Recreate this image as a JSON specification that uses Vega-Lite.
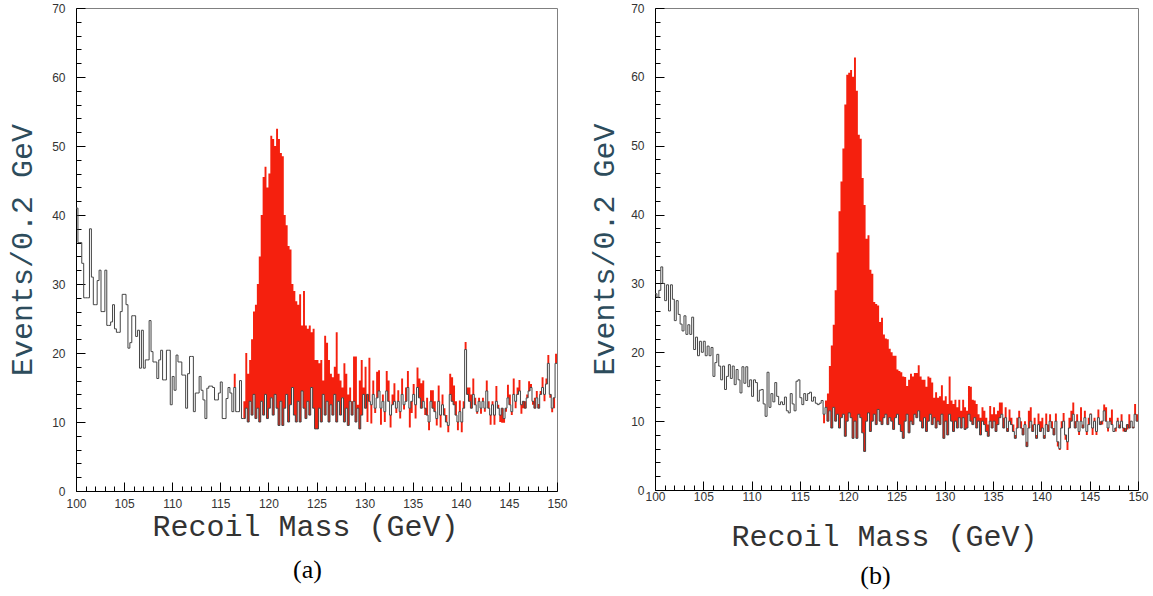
{
"$schema": "https://vega.github.io/schema/vega-lite/v6.json",
"padding": {"left": 7, "top": 1, "right": 0, "bottom": 0},
"spacing": 21,
"config": {
 "view": {"stroke": "#808080", "strokeWidth": 1},
 "axis": {"grid": false, "domainColor": "#000", "tickColor": "#000", "labelColor": "#333", "labelFont": "Liberation Sans Narrow, Liberation Sans, Arial", "labelFontSize": 12, "labelOverlap": false, "labelFlush": false, "titleFont": "Liberation Mono", "titleFontSize": 30, "titleFontWeight": "normal"},
 "title": {"font": "Liberation Serif", "fontSize": 26, "fontWeight": "normal", "color": "#000"}
},
"datasets": {
"a": [
{"m":100,"b":41,"t":41},{"m":100.2,"b":36,"t":36},{"m":100.4,"b":36,"t":36},{"m":100.6,"b":33,"t":33},{"m":100.8,"b":28,"t":28},
{"m":101,"b":28,"t":28},{"m":101.2,"b":28,"t":28},{"m":101.4,"b":38,"t":38},{"m":101.6,"b":31,"t":31},{"m":101.8,"b":27,"t":27},
{"m":102,"b":27,"t":27},{"m":102.2,"b":30.5,"t":30.5},{"m":102.4,"b":32,"t":32},{"m":102.6,"b":26,"t":26},{"m":102.8,"b":26,"t":26},
{"m":103,"b":32,"t":32},{"m":103.2,"b":24,"t":24},{"m":103.4,"b":24,"t":24},{"m":103.6,"b":24.5,"t":24.5},{"m":103.8,"b":27,"t":27},
{"m":104,"b":23.5,"t":23.5},{"m":104.2,"b":23,"t":23},{"m":104.4,"b":23,"t":23},{"m":104.6,"b":26,"t":26},{"m":104.8,"b":28.5,"t":28.5},
{"m":105,"b":28.5,"t":28.5},{"m":105.2,"b":27,"t":27},{"m":105.4,"b":20.7,"t":20.7},{"m":105.6,"b":21.5,"t":21.5},{"m":105.8,"b":25.4,"t":25.4},
{"m":106,"b":25.4,"t":25.4},{"m":106.2,"b":22.4,"t":22.4},{"m":106.4,"b":23.3,"t":23.3},{"m":106.6,"b":17.8,"t":17.8},{"m":106.8,"b":23.3,"t":23.3},
{"m":107,"b":17.8,"t":17.8},{"m":107.2,"b":19,"t":19},{"m":107.4,"b":19,"t":19},{"m":107.6,"b":24.7,"t":24.7},{"m":107.8,"b":20.2,"t":20.2},
{"m":108,"b":18.7,"t":18.7},{"m":108.2,"b":18.7,"t":18.7},{"m":108.4,"b":16.3,"t":16.3},{"m":108.6,"b":19,"t":19},{"m":108.8,"b":20.4,"t":20.4},
{"m":109,"b":16.1,"t":16.1},{"m":109.2,"b":16.1,"t":16.1},{"m":109.4,"b":20.4,"t":20.4},{"m":109.6,"b":20.4,"t":20.4},{"m":109.8,"b":12.5,"t":12.5},
{"m":110,"b":16.6,"t":16.6},{"m":110.2,"b":14.6,"t":14.6},{"m":110.4,"b":19.7,"t":19.7},{"m":110.6,"b":18.7,"t":18.7},{"m":110.8,"b":18.7,"t":18.7},
{"m":111,"b":16.8,"t":16.8},{"m":111.2,"b":16.8,"t":16.8},{"m":111.4,"b":12,"t":12},{"m":111.6,"b":17,"t":17},{"m":111.8,"b":19.5,"t":19.5},
{"m":112,"b":19.5,"t":19.5},{"m":112.2,"b":11.5,"t":11.5},{"m":112.4,"b":14.2,"t":14.2},{"m":112.6,"b":14.2,"t":14.2},{"m":112.8,"b":16.6,"t":16.6},
{"m":113,"b":14.6,"t":14.6},{"m":113.2,"b":13.2,"t":13.2},{"m":113.4,"b":10.5,"t":10.5},{"m":113.6,"b":14.9,"t":14.9},{"m":113.8,"b":15.2,"t":15.2},
{"m":114,"b":15.2,"t":15.2},{"m":114.2,"b":15,"t":15},{"m":114.4,"b":13.2,"t":13.2},{"m":114.6,"b":13.2,"t":13.2},{"m":114.8,"b":14.2,"t":14.2},
{"m":115,"b":15.8,"t":15.8},{"m":115.2,"b":10.5,"t":10.5},{"m":115.4,"b":10.5,"t":10.5},{"m":115.6,"b":13.4,"t":13.4},{"m":115.8,"b":15,"t":15},
{"m":116,"b":14.2,"t":14.2},{"m":116.2,"b":11.5,"t":11.5},{"m":116.4,"b":15,"t":17},{"m":116.6,"b":11.5,"t":11.5},{"m":116.8,"b":11.5,"t":11.5},
{"m":117,"b":16,"t":16},{"m":117.2,"b":10.5,"t":10.5},{"m":117.4,"b":10.5,"t":13},{"m":117.6,"b":12,"t":20},{"m":117.8,"b":10,"t":17},
{"m":118,"b":13,"t":19},{"m":118.2,"b":11,"t":22},{"m":118.4,"b":14,"t":26},{"m":118.6,"b":10.5,"t":27},{"m":118.8,"b":12,"t":30},
{"m":119,"b":10,"t":34},{"m":119.2,"b":13,"t":40},{"m":119.4,"b":11,"t":45.5},{"m":119.6,"b":14,"t":47},{"m":119.8,"b":10.5,"t":44},
{"m":120,"b":12,"t":46},{"m":120.2,"b":13.5,"t":51.5},{"m":120.4,"b":11,"t":51},{"m":120.6,"b":14,"t":50},{"m":120.8,"b":12,"t":52.5},
{"m":121,"b":9.5,"t":51},{"m":121.2,"b":13,"t":49},{"m":121.4,"b":9.5,"t":48.5},{"m":121.6,"b":12,"t":40},{"m":121.8,"b":14,"t":38.5},
{"m":122,"b":10,"t":35.5},{"m":122.2,"b":12.5,"t":35},{"m":122.4,"b":15,"t":30},{"m":122.6,"b":11,"t":29},{"m":122.8,"b":10,"t":27.5},
{"m":123,"b":13,"t":27},{"m":123.2,"b":10,"t":28.5},{"m":123.4,"b":14.5,"t":24},{"m":123.6,"b":12,"t":29},{"m":123.8,"b":10.5,"t":24},
{"m":124,"b":13,"t":23.5},{"m":124.2,"b":11,"t":24},{"m":124.4,"b":15,"t":23},{"m":124.6,"b":12,"t":23.5},{"m":124.8,"b":9,"t":19},
{"m":125,"b":9,"t":19},{"m":125.2,"b":12,"t":18.5},{"m":125.4,"b":10,"t":19},{"m":125.6,"b":14,"t":16},{"m":125.8,"b":11,"t":22.5},
{"m":126,"b":13,"t":21.5},{"m":126.2,"b":10,"t":19},{"m":126.4,"b":12.5,"t":17},{"m":126.6,"b":11,"t":16.5},{"m":126.8,"b":14,"t":18},
{"m":127,"b":10,"t":23},{"m":127.2,"b":13,"t":17},{"m":127.4,"b":11,"t":16},{"m":127.6,"b":13.5,"t":15},{"m":127.8,"b":10,"t":18.5},
{"m":128,"b":12,"t":17},{"m":128.2,"b":9.5,"t":14},{"m":128.4,"b":13,"t":15},{"m":128.6,"b":11,"t":13},{"m":128.8,"b":13,"t":19.5},
{"m":129,"b":10,"t":19.5},{"m":129.2,"b":12,"t":12.5},{"m":129.4,"b":9,"t":16},{"m":129.6,"b":11,"t":19},{"m":129.8,"b":14,"t":15},
{"m":130,"b":12,"t":18},{"m":130.2,"b":14,"t":10},{"m":130.4,"b":13,"t":19.3},{"m":130.6,"b":12.5,"t":9.8},{"m":130.8,"b":14,"t":16},
{"m":131,"b":12,"t":11.3},{"m":131.2,"b":13.5,"t":17.3},{"m":131.4,"b":14.5,"t":17.5},{"m":131.6,"b":12,"t":9.6},{"m":131.8,"b":13,"t":14},
{"m":132,"b":11.5,"t":10},{"m":132.2,"b":14.5,"t":17.4},{"m":132.4,"b":13,"t":16},{"m":132.6,"b":11,"t":9.2},{"m":132.8,"b":12.5,"t":14},
{"m":133,"b":13,"t":15.6},{"m":133.2,"b":12,"t":11.3},{"m":133.4,"b":13,"t":14.6},{"m":133.6,"b":11.5,"t":10.5},{"m":133.8,"b":14,"t":16.3},
{"m":134,"b":12.5,"t":11.8},{"m":134.2,"b":13,"t":15},{"m":134.4,"b":15,"t":17.4},{"m":134.6,"b":12,"t":9.2},{"m":134.8,"b":13,"t":11.3},
{"m":135,"b":14,"t":15.5},{"m":135.2,"b":12.5,"t":10.5},{"m":135.4,"b":15,"t":17.9},{"m":135.6,"b":13.5,"t":16.3},{"m":135.8,"b":12,"t":15.6},
{"m":136,"b":13,"t":16},{"m":136.2,"b":12,"t":11},{"m":136.4,"b":11,"t":13.5},{"m":136.6,"b":10,"t":8.8},{"m":136.8,"b":13,"t":14.6},
{"m":137,"b":12,"t":14.6},{"m":137.2,"b":11.5,"t":13},{"m":137.4,"b":10.5,"t":9.5},{"m":137.6,"b":13,"t":15.3},{"m":137.8,"b":11,"t":9.2},
{"m":138,"b":12.5,"t":14},{"m":138.2,"b":11,"t":12},{"m":138.4,"b":10,"t":11},{"m":138.6,"b":9.5,"t":8.5},{"m":138.8,"b":14,"t":17},
{"m":139,"b":13,"t":16.5},{"m":139.2,"b":12.5,"t":15.3},{"m":139.4,"b":11,"t":13},{"m":139.6,"b":10,"t":8.8},{"m":139.8,"b":11.5,"t":13.1},
{"m":140,"b":10,"t":8.5},{"m":140.2,"b":12,"t":13},{"m":140.4,"b":20.5,"t":21.6},{"m":140.6,"b":14,"t":15},{"m":140.8,"b":13,"t":15},
{"m":141,"b":12,"t":14},{"m":141.2,"b":14,"t":16.3},{"m":141.4,"b":12.5,"t":13.5},{"m":141.6,"b":11.5,"t":11.2},{"m":141.8,"b":13,"t":13.5},
{"m":142,"b":12,"t":11.2},{"m":142.2,"b":13,"t":13.5},{"m":142.4,"b":12,"t":11.5},{"m":142.6,"b":14.5,"t":16},{"m":142.8,"b":12,"t":13},
{"m":143,"b":11,"t":9.6},{"m":143.2,"b":12.5,"t":13},{"m":143.4,"b":11,"t":9.6},{"m":143.6,"b":13,"t":15.2},{"m":143.8,"b":12,"t":12.5},
{"m":144,"b":11,"t":10},{"m":144.2,"b":12,"t":9.9},{"m":144.4,"b":10.5,"t":9.9},{"m":144.6,"b":12,"t":11.5},{"m":144.8,"b":13.5,"t":15.4},
{"m":145,"b":12.5,"t":14},{"m":145.2,"b":11.5,"t":11},{"m":145.4,"b":14,"t":16.3},{"m":145.6,"b":13,"t":12},{"m":145.8,"b":14,"t":15},
{"m":146,"b":14.5,"t":16.1},{"m":146.2,"b":12.5,"t":11.2},{"m":146.4,"b":13,"t":12},{"m":146.6,"b":12,"t":13},{"m":146.8,"b":13.5,"t":14},
{"m":147,"b":14.5,"t":15.9},{"m":147.2,"b":15,"t":15.5},{"m":147.4,"b":13,"t":12.5},{"m":147.6,"b":12,"t":13.5},{"m":147.8,"b":13.5,"t":14.5},
{"m":148,"b":12,"t":12.6},{"m":148.2,"b":14,"t":14.5},{"m":148.4,"b":15,"t":16.5},{"m":148.6,"b":14,"t":13},{"m":148.8,"b":15.5,"t":16.3},
{"m":149,"b":18.5,"t":19.7},{"m":149.2,"b":14,"t":13.5},{"m":149.4,"b":12,"t":11.4},{"m":149.6,"b":13.5,"t":12},{"m":149.8,"b":18.5,"t":19.9},
{"m":150,"b":18.5,"t":19.9}
],
"b": [
{"m":100,"b":28.5,"t":28.5},{"m":100.2,"b":28,"t":28},{"m":100.4,"b":29,"t":29},{"m":100.6,"b":32.4,"t":32.4},{"m":100.8,"b":30,"t":30},
{"m":101,"b":27.5,"t":27.5},{"m":101.2,"b":29.8,"t":29.8},{"m":101.4,"b":26,"t":26},{"m":101.6,"b":29.8,"t":29.8},{"m":101.8,"b":27.7,"t":27.7},
{"m":102,"b":24.6,"t":24.6},{"m":102.2,"b":27.5,"t":27.5},{"m":102.4,"b":25.5,"t":25.5},{"m":102.6,"b":24.1,"t":24.1},{"m":102.8,"b":23.1,"t":23.1},
{"m":103,"b":25.3,"t":25.3},{"m":103.2,"b":22.6,"t":22.6},{"m":103.4,"b":24,"t":24},{"m":103.6,"b":22.6,"t":22.6},{"m":103.8,"b":25.1,"t":25.1},
{"m":104,"b":20.4,"t":20.4},{"m":104.2,"b":22.2,"t":22.2},{"m":104.4,"b":19.5,"t":19.5},{"m":104.6,"b":21.6,"t":21.6},{"m":104.8,"b":20,"t":20},
{"m":105,"b":21.6,"t":21.6},{"m":105.2,"b":19.5,"t":19.5},{"m":105.4,"b":20.9,"t":20.9},{"m":105.6,"b":19.5,"t":19.5},{"m":105.8,"b":20.7,"t":20.7},
{"m":106,"b":16.5,"t":16.5},{"m":106.2,"b":18.5,"t":18.5},{"m":106.4,"b":19.7,"t":19.7},{"m":106.6,"b":18,"t":18},{"m":106.8,"b":16,"t":16},
{"m":107,"b":18,"t":18},{"m":107.2,"b":14.6,"t":14.6},{"m":107.4,"b":16.5,"t":16.5},{"m":107.6,"b":18.2,"t":18.2},{"m":107.8,"b":16.2,"t":16.2},
{"m":108,"b":18,"t":18},{"m":108.2,"b":15.3,"t":15.3},{"m":108.4,"b":17.5,"t":17.5},{"m":108.6,"b":16,"t":16},{"m":108.8,"b":14.1,"t":14.1},
{"m":109,"b":17.9,"t":17.9},{"m":109.2,"b":15.5,"t":15.5},{"m":109.4,"b":17.9,"t":17.9},{"m":109.6,"b":15,"t":15},{"m":109.8,"b":16,"t":16},
{"m":110,"b":13.6,"t":13.6},{"m":110.2,"b":16,"t":16},{"m":110.4,"b":15.6,"t":15.6},{"m":110.6,"b":12.9,"t":12.9},{"m":110.8,"b":14.5,"t":14.5},
{"m":111,"b":14.6,"t":14.6},{"m":111.2,"b":12.5,"t":12.5},{"m":111.4,"b":10.7,"t":10.7},{"m":111.6,"b":17.1,"t":17.1},{"m":111.8,"b":12,"t":12},
{"m":112,"b":14,"t":14},{"m":112.2,"b":12.8,"t":12.8},{"m":112.4,"b":15.6,"t":15.6},{"m":112.6,"b":13.6,"t":13.6},{"m":112.8,"b":12.4,"t":12.4},
{"m":113,"b":12.8,"t":12.8},{"m":113.2,"b":12.4,"t":12.4},{"m":113.4,"b":13.5,"t":13.5},{"m":113.6,"b":11.5,"t":11.5},{"m":113.8,"b":11.2,"t":11.2},
{"m":114,"b":14,"t":14},{"m":114.2,"b":12.5,"t":12.5},{"m":114.4,"b":11.5,"t":11.5},{"m":114.6,"b":15.8,"t":15.8},{"m":114.8,"b":16,"t":16},
{"m":115,"b":13.4,"t":13.4},{"m":115.2,"b":12.4,"t":12.4},{"m":115.4,"b":14,"t":14},{"m":115.6,"b":13,"t":13},{"m":115.8,"b":14,"t":14},
{"m":116,"b":14.2,"t":14.2},{"m":116.2,"b":12.9,"t":12.9},{"m":116.4,"b":13.5,"t":13.5},{"m":116.6,"b":12.6,"t":12.6},{"m":116.8,"b":12.4,"t":12.4},
{"m":117,"b":12.6,"t":12.6},{"m":117.2,"b":13,"t":13},{"m":117.4,"b":11,"t":9.7},{"m":117.6,"b":12,"t":13},{"m":117.8,"b":10,"t":14},
{"m":118,"b":11.5,"t":18},{"m":118.2,"b":9,"t":21},{"m":118.4,"b":12,"t":24},{"m":118.6,"b":10,"t":29},{"m":118.8,"b":11,"t":34.5},
{"m":119,"b":9,"t":40.5},{"m":119.2,"b":10.5,"t":44.8},{"m":119.4,"b":11,"t":49.6},{"m":119.6,"b":7.8,"t":56},{"m":119.8,"b":10,"t":60.3},
{"m":120,"b":11.2,"t":60.6},{"m":120.2,"b":10.5,"t":61},{"m":120.4,"b":7.5,"t":60},{"m":120.6,"b":10,"t":62.8},{"m":120.8,"b":7.5,"t":58},
{"m":121,"b":11,"t":51.6},{"m":121.2,"b":10.5,"t":51},{"m":121.4,"b":8.3,"t":45.3},{"m":121.6,"b":5.6,"t":41.4},{"m":121.8,"b":10,"t":36.5},
{"m":122,"b":11.2,"t":37},{"m":122.2,"b":8.5,"t":32},{"m":122.4,"b":10,"t":31.4},{"m":122.6,"b":11,"t":27.3},{"m":122.8,"b":9.5,"t":27},
{"m":123,"b":11.7,"t":26.8},{"m":123.2,"b":10,"t":24.4},{"m":123.4,"b":9.5,"t":25},{"m":123.6,"b":10.5,"t":22.6},{"m":123.8,"b":11,"t":22},
{"m":124,"b":9.5,"t":21.9},{"m":124.2,"b":10.5,"t":20.5},{"m":124.4,"b":10,"t":20},{"m":124.6,"b":8.8,"t":19.5},{"m":124.8,"b":10.5,"t":19.5},
{"m":125,"b":11,"t":17.5},{"m":125.2,"b":9.5,"t":17.3},{"m":125.4,"b":8.5,"t":17.1},{"m":125.6,"b":7.5,"t":16.5},{"m":125.8,"b":10,"t":16.4},
{"m":126,"b":11,"t":15.1},{"m":126.2,"b":8.3,"t":16},{"m":126.4,"b":10,"t":16.9},{"m":126.6,"b":9.5,"t":16.5},{"m":126.8,"b":11,"t":17},
{"m":127,"b":10.5,"t":17},{"m":127.2,"b":11.5,"t":18.1},{"m":127.4,"b":10,"t":16.5},{"m":127.6,"b":9,"t":16},{"m":127.8,"b":10.5,"t":16},
{"m":128,"b":8.5,"t":15},{"m":128.2,"b":10,"t":16.5},{"m":128.4,"b":11,"t":16.3},{"m":128.6,"b":9.5,"t":15.6},{"m":128.8,"b":10.5,"t":13.4},
{"m":129,"b":9,"t":14.2},{"m":129.2,"b":10,"t":13.4},{"m":129.4,"b":9.5,"t":13.6},{"m":129.6,"b":11,"t":15.2},{"m":129.8,"b":7.5,"t":13},
{"m":130,"b":10,"t":13.6},{"m":130.2,"b":8,"t":12.5},{"m":130.4,"b":11,"t":16.5},{"m":130.6,"b":10,"t":13},{"m":130.8,"b":8.5,"t":12.5},
{"m":131,"b":10,"t":13.1},{"m":131.2,"b":9,"t":12},{"m":131.4,"b":10.5,"t":13.1},{"m":131.6,"b":9,"t":11.5},{"m":131.8,"b":10.5,"t":13.1},
{"m":132,"b":8.8,"t":12},{"m":132.2,"b":9,"t":11.5},{"m":132.4,"b":11,"t":15.1},{"m":132.6,"b":10,"t":15},{"m":132.8,"b":9.5,"t":13.1},
{"m":133,"b":10.5,"t":13},{"m":133.2,"b":9,"t":12.5},{"m":133.4,"b":10,"t":11},{"m":133.6,"b":8,"t":10.5},{"m":133.8,"b":10,"t":12},
{"m":134,"b":9.5,"t":11.5},{"m":134.2,"b":8.5,"t":10.5},{"m":134.4,"b":7.8,"t":9.5},{"m":134.6,"b":10,"t":12.2},{"m":134.8,"b":9,"t":11},
{"m":135,"b":10,"t":12},{"m":135.2,"b":8.5,"t":11},{"m":135.4,"b":9.5,"t":11.5},{"m":135.6,"b":10.5,"t":12.7},{"m":135.8,"b":11,"t":12.7},
{"m":136,"b":9,"t":10.5},{"m":136.2,"b":10.5,"t":12},{"m":136.4,"b":8.5,"t":9},{"m":136.6,"b":10,"t":11.7},{"m":136.8,"b":9.5,"t":10.5},
{"m":137,"b":8.5,"t":9.5},{"m":137.2,"b":7.5,"t":8},{"m":137.4,"b":9,"t":10.5},{"m":137.6,"b":10.5,"t":11.5},{"m":137.8,"b":9,"t":10},
{"m":138,"b":8,"t":9},{"m":138.2,"b":9.5,"t":10},{"m":138.4,"b":6.3,"t":7},{"m":138.6,"b":9,"t":11.5},{"m":138.8,"b":10,"t":12},
{"m":139,"b":8.5,"t":9.5},{"m":139.2,"b":9.5,"t":10.5},{"m":139.4,"b":7.5,"t":8},{"m":139.6,"b":9.5,"t":11.1},{"m":139.8,"b":8.5,"t":10},
{"m":140,"b":9,"t":10.5},{"m":140.2,"b":7.5,"t":8},{"m":140.4,"b":9.5,"t":11.1},{"m":140.6,"b":8.5,"t":9.5},{"m":140.8,"b":10,"t":11},
{"m":141,"b":9,"t":10},{"m":141.2,"b":8,"t":9},{"m":141.4,"b":10,"t":11.1},{"m":141.6,"b":7,"t":6.3},{"m":141.8,"b":6,"t":5.8},
{"m":142,"b":9,"t":10},{"m":142.2,"b":10,"t":11.2},{"m":142.4,"b":8,"t":7.3},{"m":142.6,"b":7,"t":5.8},{"m":142.8,"b":9,"t":10.5},
{"m":143,"b":10,"t":11.5},{"m":143.2,"b":11,"t":12.7},{"m":143.4,"b":9,"t":10},{"m":143.6,"b":10,"t":11},{"m":143.8,"b":8.5,"t":8},
{"m":144,"b":10,"t":12},{"m":144.2,"b":9,"t":9.5},{"m":144.4,"b":10.5,"t":11.5},{"m":144.6,"b":8.5,"t":8},{"m":144.8,"b":9.5,"t":10.5},
{"m":145,"b":11,"t":11.1},{"m":145.2,"b":9,"t":8},{"m":145.4,"b":10,"t":10.5},{"m":145.6,"b":8.5,"t":8},{"m":145.8,"b":10.5,"t":11.7},
{"m":146,"b":9.5,"t":10},{"m":146.2,"b":10,"t":9.5},{"m":146.4,"b":11.5,"t":12.4},{"m":146.6,"b":10,"t":12},{"m":146.8,"b":9,"t":8.5},
{"m":147,"b":10,"t":10.5},{"m":147.2,"b":9.5,"t":11.7},{"m":147.4,"b":8.5,"t":8.5},{"m":147.6,"b":9,"t":8.5},{"m":147.8,"b":10,"t":10.5},
{"m":148,"b":9,"t":9.5},{"m":148.2,"b":10,"t":11},{"m":148.4,"b":9,"t":8.5},{"m":148.6,"b":8.5,"t":9},{"m":148.8,"b":9.5,"t":8.8},
{"m":149,"b":9,"t":11},{"m":149.2,"b":10,"t":10},{"m":149.4,"b":9,"t":9.2},{"m":149.6,"b":11,"t":12.5},{"m":149.8,"b":10,"t":11},
{"m":150,"b":10,"t":11}
]
},
"hconcat": [
{
 "width": 481, "height": 483,
 "data": {"name": "a"},
 "title": {"text": "(a)", "orient": "bottom", "offset": 16, "dx": -9},
 "encoding": {"x": {"field": "m", "type": "quantitative", "scale": {"domain": [100, 150], "nice": false, "zero": false},
   "axis": {"title": "Recoil Mass (GeV)", "titleColor": "#333", "titleX": 229, "titleY": 20,
     "values": [100,101,102,103,104,105,106,107,108,109,110,111,112,113,114,115,116,117,118,119,120,121,122,123,124,125,126,127,128,129,130,131,132,133,134,135,136,137,138,139,140,141,142,143,144,145,146,147,148,149,150],
     "labelExpr": "datum.value % 5 === 0 ? datum.label : ''",
     "tickSize": {"condition": {"test": "datum.value % 5 === 0", "value": -9}, "value": -5},
     "labelPadding": 16}}},
 "layer": [
  {"mark": {"type": "area", "interpolate": "step-after", "color": "#f5200e"},
   "encoding": {"y": {"field": "t", "type": "quantitative", "scale": {"domain": [0, 70], "nice": false},
     "axis": {"title": "Events/0.2 GeV", "titleColor": "#2d4c5c", "titlePadding": 14,
       "values": [0,2,4,6,8,10,12,14,16,18,20,22,24,26,28,30,32,34,36,38,40,42,44,46,48,50,52,54,56,58,60,62,64,66,68,70],
       "labelExpr": "datum.value % 10 === 0 ? datum.label : ''",
       "tickSize": {"condition": {"test": "datum.value % 10 === 0", "value": -9}, "value": -5},
       "labelPadding": 20}},
    "y2": {"field": "b"}}},
  {"mark": {"type": "line", "interpolate": "step-after", "color": "#444", "strokeWidth": 1},
   "encoding": {"y": {"field": "b", "type": "quantitative", "scale": {"domain": [0, 70], "nice": false},
     "axis": {"title": "Events/0.2 GeV", "titleColor": "#2d4c5c", "titlePadding": 14,
       "values": [0,2,4,6,8,10,12,14,16,18,20,22,24,26,28,30,32,34,36,38,40,42,44,46,48,50,52,54,56,58,60,62,64,66,68,70],
       "labelExpr": "datum.value % 10 === 0 ? datum.label : ''",
       "tickSize": {"condition": {"test": "datum.value % 10 === 0", "value": -9}, "value": -5},
       "labelPadding": 20}}}}
 ]
},
{
 "width": 483, "height": 482,
 "data": {"name": "b"},
 "title": {"text": "(b)", "orient": "bottom", "offset": 12, "dx": -21},
 "encoding": {"x": {"field": "m", "type": "quantitative", "scale": {"domain": [100, 150], "nice": false, "zero": false},
   "axis": {"title": "Recoil Mass (GeV)", "titleColor": "#333", "titleX": 229, "titleY": 31,
     "values": [100,101,102,103,104,105,106,107,108,109,110,111,112,113,114,115,116,117,118,119,120,121,122,123,124,125,126,127,128,129,130,131,132,133,134,135,136,137,138,139,140,141,142,143,144,145,146,147,148,149,150],
     "labelExpr": "datum.value % 5 === 0 ? datum.label : ''",
     "tickSize": {"condition": {"test": "datum.value % 5 === 0", "value": -9}, "value": -5},
     "labelPadding": 10}}},
 "layer": [
  {"mark": {"type": "area", "interpolate": "step-after", "color": "#f5200e"},
   "encoding": {"y": {"field": "t", "type": "quantitative", "scale": {"domain": [0, 70], "nice": false},
     "axis": {"title": "Events/0.2 GeV", "titleColor": "#2d4c5c", "titlePadding": 11,
       "values": [0,2,4,6,8,10,12,14,16,18,20,22,24,26,28,30,32,34,36,38,40,42,44,46,48,50,52,54,56,58,60,62,64,66,68,70],
       "labelExpr": "datum.value % 10 === 0 ? datum.label : ''",
       "tickSize": {"condition": {"test": "datum.value % 10 === 0", "value": -9}, "value": -5},
       "labelPadding": 20}},
    "y2": {"field": "b"}}},
  {"mark": {"type": "line", "interpolate": "step-after", "color": "#444", "strokeWidth": 1},
   "encoding": {"y": {"field": "b", "type": "quantitative", "scale": {"domain": [0, 70], "nice": false},
     "axis": {"title": "Events/0.2 GeV", "titleColor": "#2d4c5c", "titlePadding": 11,
       "values": [0,2,4,6,8,10,12,14,16,18,20,22,24,26,28,30,32,34,36,38,40,42,44,46,48,50,52,54,56,58,60,62,64,66,68,70],
       "labelExpr": "datum.value % 10 === 0 ? datum.label : ''",
       "tickSize": {"condition": {"test": "datum.value % 10 === 0", "value": -9}, "value": -5},
       "labelPadding": 20}}}}
 ]
}
]
}
